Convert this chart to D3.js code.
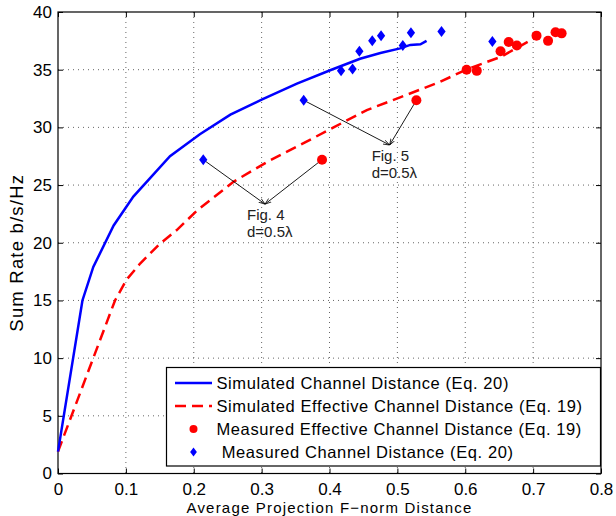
<!DOCTYPE html>
<html>
<head>
<meta charset="utf-8">
<script src="https://cdn.jsdelivr.net/npm/d3@7"></script>
<style>
  body { margin: 0; background: #fff; }
  svg { display: block; }
  text { font-family: "Liberation Sans", Arial, sans-serif; }
</style>
</head>
<body>
<svg id="chart" width="616" height="516"></svg>
<script>
// datos
var xTicks = [0, 0.1, 0.2, 0.3, 0.4, 0.5, 0.6, 0.7, 0.8];
var yTicks = [0, 5, 10, 15, 20, 25, 30, 35, 40];

// curva simulada, distancia del canal (Eq. 20)
var simChanX = [0, 0.036, 0.052, 0.082, 0.111, 0.165, 0.209, 0.254, 0.300, 0.352, 0.401, 0.445, 0.475, 0.504, 0.519, 0.534, 0.543];
var simChanY = [1.9, 15.0, 17.9, 21.5, 24.0, 27.5, 29.4, 31.1, 32.4, 33.8, 34.95, 35.95, 36.45, 36.85, 37.15, 37.2, 37.5];

// curva simulada, distancia efectiva (Eq. 19)
var simEffX = [0, 0.084, 0.101, 0.121, 0.150, 0.175, 0.205, 0.259, 0.308, 0.377, 0.406, 0.455, 0.504, 0.563, 0.603, 0.652, 0.701];
var simEffY = [1.9, 15.0, 16.8, 18.2, 19.9, 21.1, 22.8, 25.3, 27.0, 29.1, 30.0, 31.5, 32.6, 33.95, 35.05, 36.1, 37.7];

// medidas, distancia efectiva (circulos rojos)
var measEffX = [0.389, 0.528, 0.602, 0.617, 0.652, 0.664, 0.676, 0.705, 0.722, 0.733, 0.742];
var measEffY = [27.2, 32.35, 35.0, 34.9, 36.6, 37.4, 37.1, 37.95, 37.5, 38.25, 38.15];

// medidas, distancia del canal (rombos azules)
var measChanX = [0.214, 0.362, 0.417, 0.434, 0.444, 0.463, 0.476, 0.508, 0.520, 0.565, 0.640];
var measChanY = [27.2, 32.35, 34.9, 35.05, 36.6, 37.5, 37.95, 37.1, 38.2, 38.3, 37.45];

var legendLabels = [
  "Simulated Channel Distance (Eq. 20)",
  "Simulated Effective Channel Distance (Eq. 19)",
  "Measured Effective Channel Distance (Eq. 19)",
  " Measured Channel Distance (Eq. 20)"
];

// anotaciones: punta de la flecha y origenes
var notes = [
  {label: "Fig. 4", tip: [0.305, 23.35], from: [[0.214, 27.2], [0.389, 27.2]]},
  {label: "Fig. 5", tip: [0.4886, 28.47], from: [[0.362, 32.35], [0.528, 32.35]]}
];

var svg = d3.select("#chart"),
    margin = {top: 12, right: 15, bottom: 42.5, left: 58},
    width = +svg.attr("width") - margin.left - margin.right,
    height = +svg.attr("height") - margin.top - margin.bottom,
    g = svg.append("g").attr("transform", "translate(" + margin.left + "," + margin.top + ")");

var x = d3.scaleLinear().domain([0, 0.8]).range([0, width]);
var y = d3.scaleLinear().domain([0, 40]).range([height, 0]);

// rejilla punteada
g.append("g").selectAll("line").data(xTicks.slice(1, -1)).enter().append("line")
    .attr("x1", function(d) { return x(d); }).attr("x2", function(d) { return x(d); })
    .attr("y1", 0).attr("y2", height)
    .attr("stroke", "#666").attr("stroke-dasharray", "1,4");
g.append("g").selectAll("line").data(yTicks.slice(1, -1)).enter().append("line")
    .attr("y1", function(d) { return y(d); }).attr("y2", function(d) { return y(d); })
    .attr("x1", 0).attr("x2", width)
    .attr("stroke", "#666").attr("stroke-dasharray", "1,4");

// ejes estilo matlab (ticks hacia dentro en los 4 lados)
var fmt = function(d) { return d === 0 ? "0" : d3.format(".1f")(d); };
g.append("g").attr("transform", "translate(0," + height + ")")
    .call(d3.axisBottom(x).tickValues(xTicks).tickFormat(fmt).tickSizeInner(-5).tickSizeOuter(0).tickPadding(9))
    .call(function(a) { a.select(".domain").remove(); a.selectAll("text").attr("font-size", 17).attr("fill", "#000"); });
g.append("g")
    .call(d3.axisTop(x).tickValues(xTicks).tickFormat("").tickSizeInner(-5).tickSizeOuter(0))
    .call(function(a) { a.select(".domain").remove(); });
g.append("g")
    .call(d3.axisLeft(y).tickValues(yTicks).tickSizeInner(-5).tickSizeOuter(0).tickPadding(6))
    .call(function(a) { a.select(".domain").remove(); a.selectAll("text").attr("font-size", 17).attr("fill", "#000"); });
g.append("g").attr("transform", "translate(" + width + ",0)")
    .call(d3.axisRight(y).tickValues(yTicks).tickFormat("").tickSizeInner(-5).tickSizeOuter(0))
    .call(function(a) { a.select(".domain").remove(); });

g.append("rect").attr("width", width).attr("height", height)
    .attr("fill", "none").attr("stroke", "#000").attr("stroke-width", 1.2);

// rotulos de los ejes
svg.append("text")
    .attr("x", margin.left + width / 2).attr("y", 513)
    .attr("text-anchor", "middle").attr("font-size", 15).attr("letter-spacing", 1.2)
    .text("Average Projection F\u2212norm Distance");
svg.append("text")
    .attr("transform", "translate(23," + (margin.top + height / 2 + 10) + ") rotate(-90)")
    .attr("text-anchor", "middle").attr("font-size", 18.5).attr("letter-spacing", 1.2)
    .text("Sum Rate b/s/Hz");

// curvas
var line = d3.line().x(function(d) { return x(d[0]); }).y(function(d) { return y(d[1]); });
g.append("path").datum(d3.zip(simEffX, simEffY))
    .attr("d", line).attr("fill", "none").attr("stroke", "#ff0000")
    .attr("stroke-width", 2.5).attr("stroke-dasharray", "11,6");
g.append("path").datum(d3.zip(simChanX, simChanY))
    .attr("d", line).attr("fill", "none").attr("stroke", "#0000ff").attr("stroke-width", 2.5);

// flechas de anotacion
svg.append("defs").append("marker")
    .attr("id", "arrow").attr("viewBox", "0 0 10 10").attr("refX", 10).attr("refY", 5)
    .attr("markerWidth", 7).attr("markerHeight", 7).attr("orient", "auto")
  .append("path").attr("d", "M0,1.5L10,5L0,8.5").attr("fill", "none").attr("stroke", "#000").attr("stroke-width", 1.2);

notes.forEach(function(n) {
  n.from.forEach(function(p) {
    g.append("line")
      .attr("x1", x(p[0])).attr("y1", y(p[1]))
      .attr("x2", x(n.tip[0])).attr("y2", y(n.tip[1]))
      .attr("stroke", "#000").attr("stroke-width", 0.9)
      .attr("marker-end", "url(#arrow)");
  });
  var t = g.append("text")
      .attr("x", x(n.tip[0]) - 18).attr("y", y(n.tip[1]) + 16)
      .attr("font-family", "Lato, 'Open Sans', sans-serif").attr("font-size", 15).attr("fill", "#222");
  t.append("tspan").text(n.label);
  t.append("tspan").attr("x", x(n.tip[0]) - 18).attr("dy", 17).text("d=0.5\u03bb");
});

// marcadores medidos
g.selectAll(".circ").data(d3.zip(measEffX, measEffY)).enter().append("circle")
    .attr("cx", function(d) { return x(d[0]); }).attr("cy", function(d) { return y(d[1]); })
    .attr("r", 5).attr("fill", "#ff0000");
var diamond = function(s) { return "M0," + (-s) + "L" + (s * 0.75) + ",0L0," + s + "L" + (-s * 0.75) + ",0Z"; };
g.selectAll(".diam").data(d3.zip(measChanX, measChanY)).enter().append("path")
    .attr("transform", function(d) { return "translate(" + x(d[0]) + "," + y(d[1]) + ")"; })
    .attr("d", diamond(5.5)).attr("fill", "#0000ff");

// leyenda
var lg = svg.append("g").attr("transform", "translate(166.5,367.5)");
lg.append("rect").attr("width", 434).attr("height", 98.5)
    .attr("fill", "#fff").attr("stroke", "#000").attr("stroke-width", 1.2);
var rows = lg.selectAll(".row").data(legendLabels).enter().append("g")
    .attr("transform", function(d, i) { return "translate(0," + (15.5 + i * 23) + ")"; });
rows.append("text").attr("x", 50).attr("dy", "0.35em").attr("font-size", 16.5).attr("letter-spacing", 0.6)
    .text(function(d) { return d; })
    .attr("xml:space", "preserve").style("white-space", "pre");
rows.filter(function(d, i) { return i === 0; }).append("line")
    .attr("x1", 8.5).attr("x2", 45.5).attr("stroke", "#0000ff").attr("stroke-width", 2.5);
rows.filter(function(d, i) { return i === 1; }).append("line")
    .attr("x1", 8.5).attr("x2", 45.5).attr("stroke", "#ff0000").attr("stroke-width", 2.5).attr("stroke-dasharray", "11,6");
rows.filter(function(d, i) { return i === 2; }).append("circle")
    .attr("cx", 27).attr("r", 4).attr("fill", "#ff0000");
rows.filter(function(d, i) { return i === 3; }).append("path")
    .attr("transform", "translate(27,0)").attr("d", diamond(4.5)).attr("fill", "#0000ff");
</script>
</body>
</html>
